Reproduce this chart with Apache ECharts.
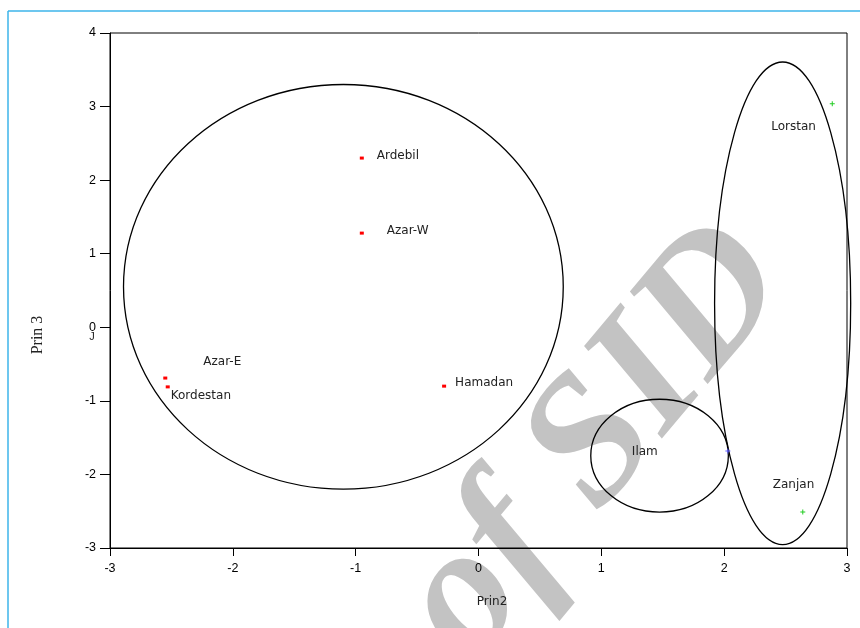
<!DOCTYPE html>
<html><head><meta charset="utf-8">
<script src="https://cdn.jsdelivr.net/npm/echarts@6/dist/echarts.min.js"></script>
<style>html,body{margin:0;padding:0;background:#fff}#c{width:860px;height:628px}</style>
</head><body><div id="c"></div>
<script>
// ---- data ----
const provinces = ['Ardebil', 'Azar-W', 'Azar-E', 'Kordestan', 'Hamadan', 'Ilam', 'Lorstan', 'Zanjan'];
const prin2 = [-0.95, -0.95, -2.55, -2.53, -0.28, 2.03, 2.88, 2.64];
const prin3 = [2.30, 1.28, -0.69, -0.81, -0.80, -1.68, 3.04, -2.51];
const cluster = [1, 1, 1, 1, 1, 2, 3, 3];
const xTicks = [-3, -2, -1, 0, 1, 2, 3];
const yTicks = [-3, -2, -1, 0, 1, 2, 3, 4];
// cluster ellipses (centre and semi-axes in data units)
const ellipseCx = [-1.10, 1.474, 2.476];
const ellipseCy = [0.55, -1.745, 0.326];
const ellipseRx = [1.79, 0.56, 0.554];
const ellipseRy = [2.75, 0.767, 3.28];

// ---- styles ----
const labelOffset = {
  'Ardebil': [15, -2], 'Azar-W': [25, -2], 'Azar-E': [38, -16], 'Kordestan': [3, 9],
  'Hamadan': [11, -3], 'Ilam': [-96, 1], 'Lorstan': [-61, 23], 'Zanjan': [-30, -27]
};
const plus = 'path://M2,0H3V2H5V3H3V5H2V3H0V2H2Z';
const clusterStyle = {
  1: { symbol: 'rect', symbolSize: [4, 3], color: '#ff0000' },
  2: { symbol: plus, symbolSize: 5, color: '#5a5aff' },
  3: { symbol: plus, symbolSize: 5, color: '#22cc22' }
};
const labelFont = { fontFamily: 'DejaVu Sans', fontSize: 12, color: '#222' };

const chart = echarts.init(document.getElementById('c'), null, { renderer: 'canvas' });

const scatterSeries = [1, 2, 3].map(g => ({
  type: 'scatter',
  symbol: clusterStyle[g].symbol,
  symbolSize: clusterStyle[g].symbolSize,
  itemStyle: { color: clusterStyle[g].color, opacity: 1 },
  z: 5,
  silent: true,
  data: provinces.map((p, i) => ({ p, i })).filter(o => cluster[o.i] === g).map(o => ({
    name: o.p,
    value: [prin2[o.i], prin3[o.i]],
    label: {
      show: true, formatter: '{b}', position: 'inside', align: 'left', verticalAlign: 'middle',
      offset: labelOffset[o.p], ...labelFont
    }
  }))
}));

const axisCommon = {
  type: 'value',
  axisLine: { show: true, onZero: false, lineStyle: { color: '#000', width: 1 } },
  axisTick: { show: true, lineStyle: { color: '#000', width: 1 } },
  splitLine: { show: false },
  axisLabel: { color: '#000', fontSize: 12.5, fontFamily: 'Liberation Sans' }
};

chart.setOption({
  animation: false,
  backgroundColor: '#fff',
  grid: { left: 110, top: 33, width: 737, height: 515, show: true, borderColor: '#000', borderWidth: 1, backgroundColor: 'transparent' },
  xAxis: Object.assign({}, axisCommon, {
    min: xTicks[0], max: xTicks[xTicks.length - 1], interval: 1,
    axisTick: { show: true, length: 8, lineStyle: { color: '#000' } },
    axisLabel: Object.assign({}, axisCommon.axisLabel, { margin: 14 })
  }),
  yAxis: Object.assign({}, axisCommon, {
    min: yTicks[0], max: yTicks[yTicks.length - 1], interval: 1,
    axisTick: { show: true, length: 10, lineStyle: { color: '#000' } },
    axisLabel: Object.assign({}, axisCommon.axisLabel, { margin: 14 })
  }),
  graphic: [
    { type: 'text', x: 757, y: 252, rotation: 50 * Math.PI / 180, z: -10, silent: true,
      style: { text: 'Archive of SID', fontFamily: 'Liberation Serif', fontStyle: 'italic', fontWeight: 'bold', fontSize: 182,
               fill: '#c3c3c3', textAlign: 'right', textVerticalAlign: 'middle' } },
    { type: 'line', silent: true, z: 10, shape: { x1: 8, y1: 11, x2: 8, y2: 628 }, style: { stroke: '#3cb4ea', lineWidth: 1.5 } },
    { type: 'line', silent: true, z: 10, shape: { x1: 8, y1: 11, x2: 860, y2: 11 }, style: { stroke: '#3cb4ea', lineWidth: 1.5 } },
    { type: 'text', x: 38, y: 335, rotation: Math.PI / 2, silent: true,
      style: { text: 'Prin 3', fontFamily: 'Liberation Serif', fontSize: 16, fill: '#222', textAlign: 'center', textVerticalAlign: 'middle' } },
    { type: 'text', x: 492, y: 602, silent: true,
      style: { text: 'Prin2', fontFamily: 'DejaVu Sans', fontSize: 12, fill: '#222', textAlign: 'center', textVerticalAlign: 'middle' } },
    { type: 'text', x: 92, y: 337, silent: true,
      style: { text: 'J', fontFamily: 'Liberation Sans', fontSize: 11, fill: '#222', textAlign: 'center', textVerticalAlign: 'middle' } }
  ],
  series: [
    {
      type: 'custom',
      coordinateSystem: 'cartesian2d',
      clip: false,
      silent: true,
      z: 3,
      encode: { x: 0, y: 1 },
      data: ellipseCx.map((cx, i) => [cx, ellipseCy[i], ellipseRx[i], ellipseRy[i]]),
      renderItem: function (params, api) {
        const c = api.coord([api.value(0), api.value(1)]);
        const s = api.size([api.value(2), api.value(3)]);
        return {
          type: 'ellipse',
          shape: { cx: c[0], cy: c[1], rx: s[0], ry: s[1] },
          style: { fill: 'none', stroke: '#000', lineWidth: 1.3 }
        };
      }
    }
  ].concat(scatterSeries)
});
</script>
</body></html>
